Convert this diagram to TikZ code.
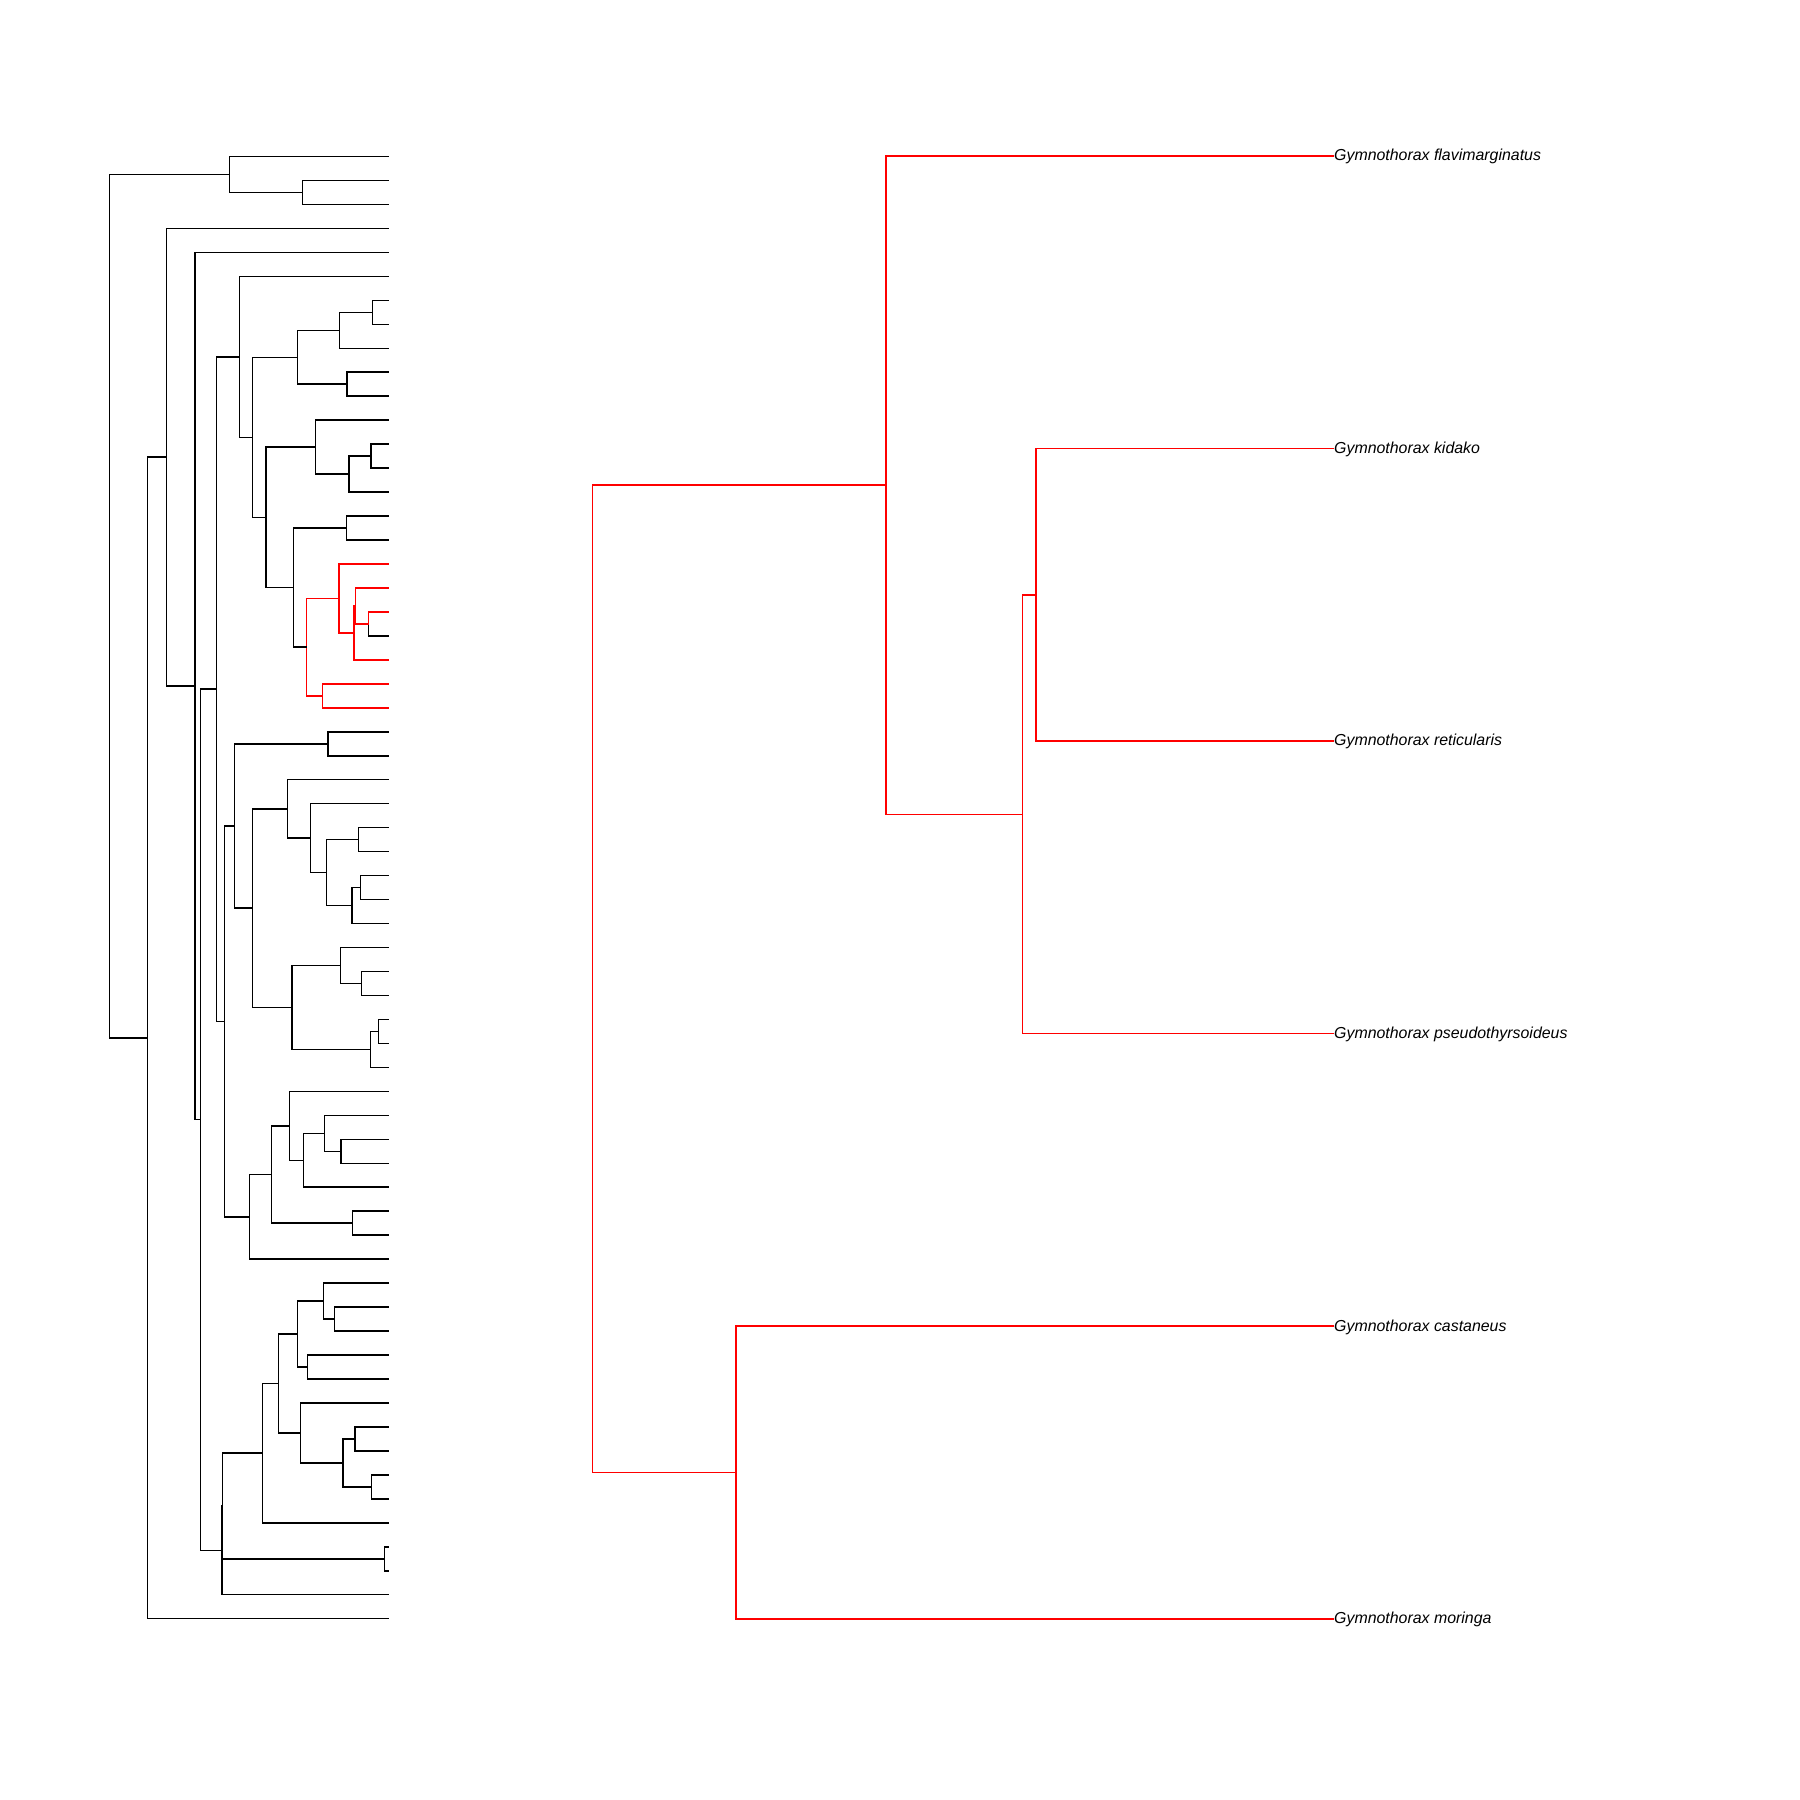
\documentclass[tikz,border=0pt]{standalone}
\usepackage{fontspec}
\setmainfont{Liberation Sans}
\usetikzlibrary{calc}

% internal node: x position, y halfway between its two children
\newcommand\inode[4]{%
  \path ($(#3)!0.5!(#4)$) coordinate (midtmp);
  \coordinate (#1) at (midtmp -| #2,0);}
% a clade: both child edges drawn as elbows from the parent
\newcommand\clade[4][]{\draw[edge,#1] (#2) |- (#3) (#2) |- (#4);}

\begin{document}
\begin{tikzpicture}[x=1pt,y=-1pt,
  edge/.style={line width=1.5pt,black,line join=miter},
  hl/.style={red},
  lab/.style={anchor=base west,inner sep=0pt,yshift=-4.8pt,
    font=\fontsize{15.9}{18}\selectfont\itshape}]
\path[use as bounding box,fill=white] (0,0) rectangle (1800,1800);

% ---------- large tree (left) ----------
\foreach \i in {0,...,61}
  \coordinate (t\i) at (389,{156.5+23.97*\i});

\inode{A}{302.3}{t1}{t2}
\inode{B}{229.3}{t0}{A}
\inode{G}{372.7}{t6}{t7}
\inode{H}{339.7}{G}{t8}
\inode{J}{347}{t9}{t10}
\inode{I}{297.7}{H}{J}
\inode{Q}{371}{t12}{t13}
\inode{P}{349}{Q}{t14}
\inode{N}{315.7}{t11}{P}
\inode{R}{346.7}{t15}{t16}
\inode{W}{368.7}{t19}{t20}
\inode{V}{355.7}{t18}{W}
\inode{U}{354}{V}{t21}
\inode{T}{339}{t17}{U}
\inode{X}{322.3}{t22}{t23}
\inode{S}{306.7}{T}{X}
\inode{O}{293.7}{R}{S}
\inode{M}{266}{N}{O}
\inode{K}{252.7}{I}{M}
\inode{F}{239.7}{t5}{K}
\inode{EE}{328}{t24}{t25}
\inode{JJ}{358.7}{t28}{t29}
\inode{LL}{360.7}{t30}{t31}
\inode{KK}{352}{LL}{t32}
\inode{II}{326.3}{JJ}{KK}
\inode{HH}{310.7}{t27}{II}
\inode{GG}{287.7}{t26}{HH}
\inode{OO}{361.7}{t34}{t35}
\inode{NN}{340.3}{t33}{OO}
\inode{QQ}{378.7}{t36}{t37}
\inode{PP}{370.7}{QQ}{t38}
\inode{MM}{292}{NN}{PP}
\inode{FF}{252.3}{GG}{MM}
\inode{CC}{234.3}{EE}{FF}
\inode{VV}{341}{t41}{t42}
\inode{UU}{324.7}{t40}{VV}
\inode{TT}{303.7}{UU}{t43}
\inode{SS}{289.7}{t39}{TT}
\inode{WW}{352.3}{t44}{t45}
\inode{RR}{271.3}{SS}{WW}
\inode{DD}{249.7}{RR}{t46}
\inode{BB}{224.3}{CC}{DD}
\inode{L}{216.7}{F}{BB}
\inode{AD}{334.7}{t48}{t49}
\inode{AC}{323.7}{t47}{AD}
\inode{AE}{307.7}{t50}{t51}
\inode{AB}{297.3}{AC}{AE}
\inode{AH}{355}{t53}{t54}
\inode{AI}{371.7}{t55}{t56}
\inode{AG}{343}{AH}{AI}
\inode{AF}{300.3}{t52}{AG}
\inode{ZZ}{278.7}{AB}{AF}
\inode{XX}{262.7}{ZZ}{t57}
\inode{YY}{384.7}{t58}{t59}
\inode{AAa}{222.6}{XX}{YY}
\inode{AAb}{221.9}{AAa}{t60}
\inode{Z}{200.3}{L}{AAb}
\inode{E}{195}{t4}{Z}
\inode{D}{166.7}{t3}{E}
\inode{Y}{147.3}{D}{t61}
\inode{C}{109.3}{B}{Y}

\clade{A}{t1}{t2}
\clade{B}{t0}{A}
\clade{G}{t6}{t7}
\clade{H}{G}{t8}
\clade{J}{t9}{t10}
\clade{I}{H}{J}
\clade{Q}{t12}{t13}
\clade{P}{Q}{t14}
\clade{N}{t11}{P}
\clade{R}{t15}{t16}
% highlighted clade
\draw[edge,hl] (W) |- (t19);
\draw[edge] (W) |- (t20);
\clade[hl]{V}{t18}{W}
\clade[hl]{U}{V}{t21}
\clade[hl]{T}{t17}{U}
\clade[hl]{X}{t22}{t23}
\clade[hl]{S}{T}{X}
\clade{O}{R}{S}
\clade{M}{N}{O}
\clade{K}{I}{M}
\clade{F}{t5}{K}
\clade{EE}{t24}{t25}
\clade{JJ}{t28}{t29}
\clade{LL}{t30}{t31}
\clade{KK}{LL}{t32}
\clade{II}{JJ}{KK}
\clade{HH}{t27}{II}
\clade{GG}{t26}{HH}
\clade{OO}{t34}{t35}
\clade{NN}{t33}{OO}
\clade{QQ}{t36}{t37}
\clade{PP}{QQ}{t38}
\clade{MM}{NN}{PP}
\clade{FF}{GG}{MM}
\clade{CC}{EE}{FF}
\clade{VV}{t41}{t42}
\clade{UU}{t40}{VV}
\clade{TT}{UU}{t43}
\clade{SS}{t39}{TT}
\clade{WW}{t44}{t45}
\clade{RR}{SS}{WW}
\clade{DD}{RR}{t46}
\clade{BB}{CC}{DD}
\clade{L}{F}{BB}
\clade{AD}{t48}{t49}
\clade{AC}{t47}{AD}
\clade{AE}{t50}{t51}
\clade{AB}{AC}{AE}
\clade{AH}{t53}{t54}
\clade{AI}{t55}{t56}
\clade{AG}{AH}{AI}
\clade{AF}{t52}{AG}
\clade{ZZ}{AB}{AF}
\clade{XX}{ZZ}{t57}
\clade{YY}{t58}{t59}
\clade{AAa}{XX}{YY}
\clade{AAb}{AAa}{t60}
\clade{Z}{L}{AAb}
\clade{E}{t4}{Z}
\clade{D}{t3}{E}
\clade{Y}{D}{t61}
\clade{C}{B}{Y}

% ---------- pruned tree (right) ----------
\foreach \k/\name in {0/flav,1/kid,2/ret,3/pse,4/cas,5/mor}
  \coordinate (\name) at (1334,{156+292.55*\k});

\node[lab] (lflav) at (flav) {Gymnothorax flavimarginatus};
\node[lab] (lkid)  at (kid)  {Gymnothorax kidako};
\node[lab] (lret)  at (ret)  {Gymnothorax reticularis};
\node[lab] (lpse)  at (pse)  {Gymnothorax pseudothyrsoideus};
\node[lab] (lcas)  at (cas)  {Gymnothorax castaneus};
\node[lab] (lmor)  at (mor)  {Gymnothorax moringa};

\inode{rk}{1036}{kid}{ret}
\inode{rq}{1022.7}{rk}{pse}
\inode{rr}{886}{flav}{rq}
\inode{rs}{736}{cas}{mor}
\inode{rroot}{592.7}{rr}{rs}

\clade[hl]{rk}{kid}{ret}
\clade[hl]{rq}{rk}{pse}
\clade[hl]{rr}{flav}{rq}
\clade[hl]{rs}{cas}{mor}
\clade[hl]{rroot}{rr}{rs}
\end{tikzpicture}
\end{document}
